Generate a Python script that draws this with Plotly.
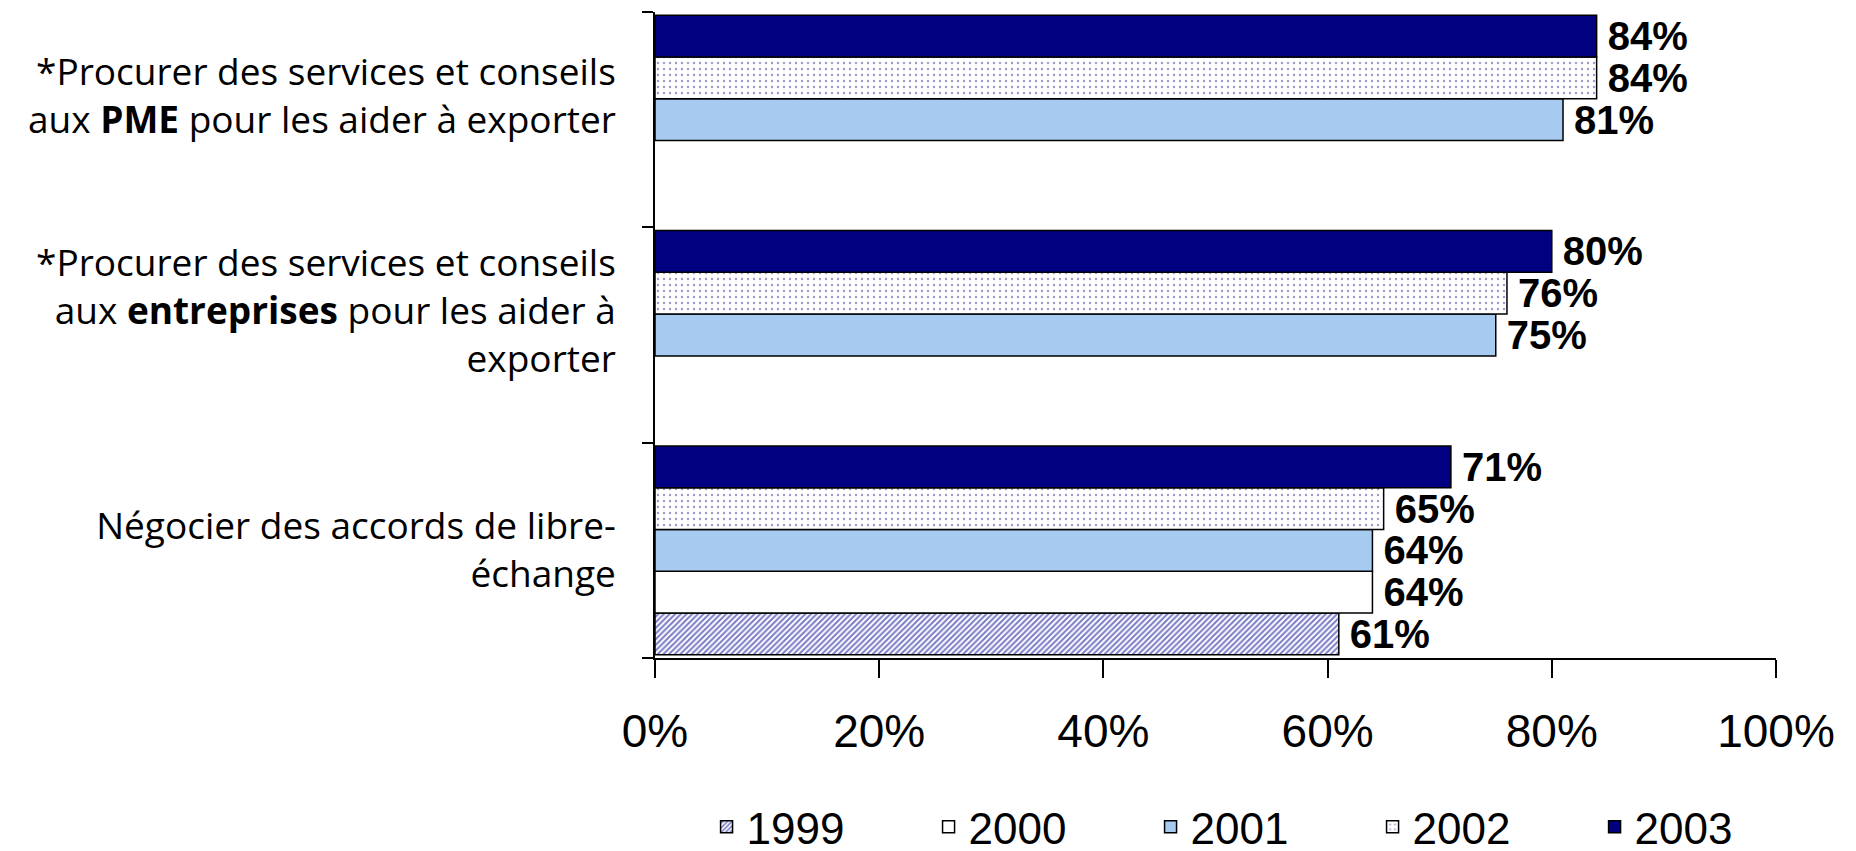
import plotly.graph_objects as go

categories = [
    "Négocier des accords de libre-<br>échange",
    "*Procurer des services et conseils<br>aux <b>entreprises</b> pour les aider à<br>exporter<br> ",
    "*Procurer des services et conseils<br>aux <b>PME</b> pour les aider à exporter<br> ",
]
years = ["1999", "2000", "2001", "2002", "2003"]
v1999 = [61, None, None]
v2000 = [64, None, None]
v2001 = [64, 75, 81]
v2002 = [65, 76, 84]
v2003 = [71, 80, 84]
values = [v1999, v2000, v2001, v2002, v2003]

x_ticks = [0, 20, 40, 60, 80, 100]
x_ticklabels = ["0%", "20%", "40%", "60%", "80%", "100%"]

styles = {
    "1999": dict(color="white", pattern=dict(shape="/", fgcolor="#7b7bc8", bgcolor="white", size=4, solidity=0.5, fillmode="replace")),
    "2000": dict(color="white"),
    "2001": dict(color="#a6caf0"),
    "2002": dict(color="white", pattern=dict(shape=".", fgcolor="#9a9acc", bgcolor="white", size=6, solidity=0.12, fillmode="replace")),
    "2003": dict(color="#000080"),
}

fig = go.Figure()
for yr, vals in zip(years, values):
    st = styles[yr]
    marker = dict(color=st["color"], line=dict(color="black", width=1.5))
    if "pattern" in st:
        marker["pattern"] = st["pattern"]
    fig.add_trace(go.Bar(
        name=yr, y=categories, x=vals, orientation="h",
        marker=marker,
        text=[None if v is None else f"\u2009{v}%" for v in vals],
        textposition="outside", constraintext="none", cliponaxis=False,
        textfont=dict(family="Liberation Sans, Arial, sans-serif", size=40, color="black", weight="bold"),
        hoverinfo="x+name",
    ))

fig.update_layout(
    barmode="group", bargap=0.03, bargroupgap=0,
    width=1856, height=851,
    margin=dict(l=647, r=88, t=4, b=201, autoexpand=False),
    paper_bgcolor="white", plot_bgcolor="white",
    showlegend=True,
    legend=dict(orientation="h", x=0.046, xanchor="left", y=-0.262, yanchor="middle",
                font=dict(family="Liberation Sans, Arial, sans-serif", size=44, color="black"),
                traceorder="normal", entrywidth=177, itemwidth=30),
    xaxis=dict(range=[0, 100], tickvals=x_ticks, ticktext=x_ticklabels,
               showline=True, linecolor="black", linewidth=1.5,
               ticks="outside", ticklen=18, tickwidth=1.5, tickcolor="black",
               showgrid=False, zeroline=False, ticklabelstandoff=14,
               tickfont=dict(family="Liberation Sans, Arial, sans-serif", size=46, color="black")),
    yaxis=dict(showline=True, linecolor="black", linewidth=1.5,
               ticks="outside", ticklen=11, tickwidth=1.5, tickcolor="black",
               tickson="boundaries", showgrid=False, zeroline=False,
               ticklabelstandoff=30,
               tickfont=dict(family="Open Sans, Noto Sans, sans-serif", size=37, color="black")),
)

fig.write_html("out.html")
